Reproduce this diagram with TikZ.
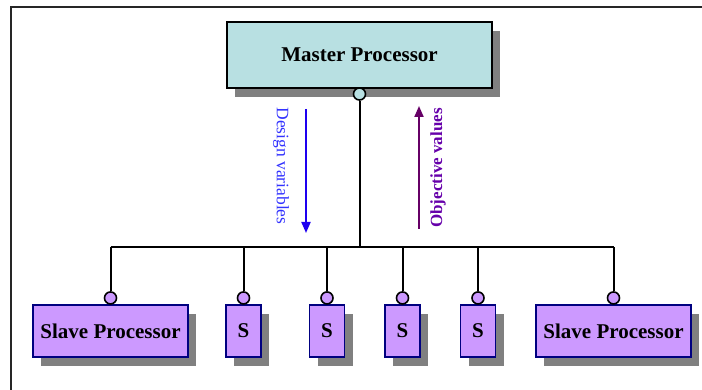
\documentclass[tikz,border=0pt]{standalone}
\usepackage{fontspec}
\setmainfont{Liberation Serif}
\usetikzlibrary{shadows,arrows.meta}
\definecolor{masterfill}{RGB}{184,224,226}
\definecolor{slavefill}{RGB}{204,153,255}
\definecolor{slaveedge}{RGB}{0,0,128}
\definecolor{shadowgray}{RGB}{128,128,128}
\definecolor{downblue}{RGB}{30,0,240}
\definecolor{downtext}{RGB}{51,51,255}
\definecolor{upline}{RGB}{102,0,102}
\definecolor{uptext}{RGB}{102,0,170}
\tikzset{
  boxshadow/.style={drop shadow={shadow xshift=8pt, shadow yshift=-9pt, fill=shadowgray, opacity=1}},
  masterbox/.style={draw=black, line width=2pt, fill=masterfill, boxshadow,
    minimum width=265pt, minimum height=66pt, inner sep=0pt,
    font=\fontsize{21}{25}\selectfont\bfseries},
  slavebox/.style={draw=slaveedge, line width=1.5pt, fill=slavefill, boxshadow,
    minimum height=52pt, inner sep=0pt, font=\fontsize{21}{25}\selectfont\bfseries},
  wide/.style={slavebox, minimum width=155pt},
  narrow/.style={slavebox, minimum width=35pt},
  port/.style={circle, draw=black, line width=1.6pt, minimum size=12pt, inner sep=0pt},
  wire/.style={line width=2pt, black},
  flowarrow/.style={line width=2pt, -{Triangle[length=11pt,width=9pt]}}
}
\begin{document}
\begin{tikzpicture}[x=1pt,y=-1pt]
  \useasboundingbox (0,0) rectangle (702,390);
  % outer frame
  \draw[line width=2pt, black!85] (10.5,391) -- (10.5,7) -- (703,7);

  % master and slaves
  \node[masterbox] (master) at (359.5,55) {Master Processor};
  \node[wide]   (sl) at (110.5,331) {Slave Processor};
  \node[narrow] (s1) at (243.5,331) {S};
  \node[narrow] (s2) at (327,331) {S};
  \node[narrow] (s3) at (402.5,331) {S};
  \node[narrow] (s4) at (478,331) {S};
  \node[wide]   (sr) at (613.5,331) {Slave Processor};

  % connection ports
  \node[port, fill=masterfill, anchor=center] (pm) at ([yshift=-5pt]master.south) {};
  \foreach \s in {sl,s1,s2,s3,s4,sr}
    \node[port, fill=slavefill, anchor=south] (p\s) at ([yshift=-0.5pt]\s.north) {};

  % bus
  \coordinate (bus) at (360,247.5);
  \draw[wire] (pm.south) -- (pm |- bus);
  \draw[wire] (psl |- bus) -- (psr |- bus);
  \foreach \s in {sl,s1,s2,s3,s4,sr}
    \draw[wire] (p\s |- bus) -- (p\s.north);

  % data flow
  \coordinate (dtop) at (306,109);
  \coordinate (dbot) at (306,233);
  \draw[flowarrow, downblue] (dtop) -- (dbot);
  \node[rotate=-90, text=downtext, font=\fontsize{17.5}{20}\selectfont] (dlab) at (281,166) {Design variables};

  \coordinate (ubot) at (419,229);
  \coordinate (utop) at (419,106);
  \draw[flowarrow, upline] (ubot) -- (utop);
  \node[rotate=90, text=uptext, font=\fontsize{17}{20}\selectfont\bfseries] (ulab) at (438,168) {Objective values};
\end{tikzpicture}
\end{document}
